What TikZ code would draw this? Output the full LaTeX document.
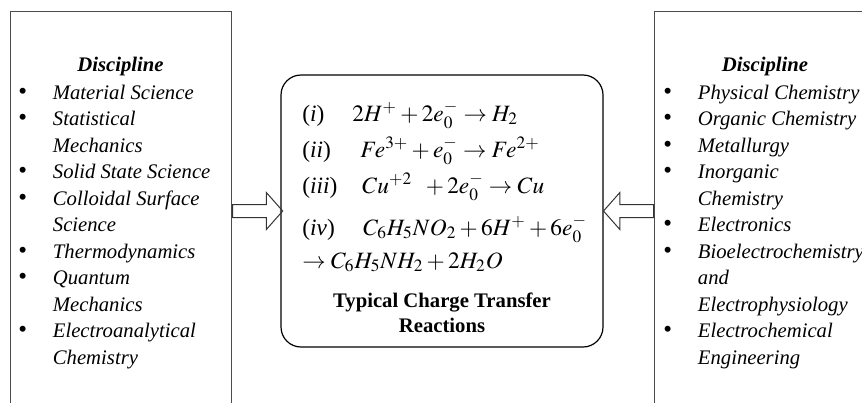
\documentclass[tikz,border=0pt]{standalone}
\usepackage{mathptmx}
\usepackage{fontspec}
\setmainfont{Liberation Serif}
\usetikzlibrary{shapes.arrows}

\newcommand{\discbullet}{{\upshape\fontsize{12.5}{12.5}\selectfont\textbullet}}

\begin{document}
\begin{tikzpicture}[x=0.5pt,y=-0.5pt,
    font=\fontsize{10.35}{13.25}\selectfont,
    disc box/.style={draw=black!70,line width=0.6pt,anchor=north west,inner sep=0pt,
                     minimum width=110.5pt,minimum height=210pt},
    disc head/.style={anchor=base,inner sep=0pt,font=\fontsize{10.35}{13.25}\selectfont\bfseries\itshape},
    disc list/.style={anchor=base west,inner sep=0pt,font=\fontsize{10.35}{13.25}\selectfont\itshape},
    react box/.style={draw=black,line width=0.6pt,rounded corners=10pt,
                      minimum width=161pt,minimum height=136pt},
    react line/.style={anchor=base west,inner sep=0pt,font=\fontsize{11.7}{14}\selectfont},
    react title/.style={anchor=base,inner sep=0pt,align=center,
                        font=\fontsize{10.35}{12.5}\selectfont\bfseries},
    block arrow/.style={single arrow,draw=black!80,line width=0.5pt,anchor=tail,inner sep=3pt,
                        minimum height=25pt,single arrow head extend=6pt,
                        single arrow tip angle=97,single arrow head indent=0pt}]

\useasboundingbox (0,0) rectangle (862,402);

% left discipline box
\node[disc box] (lbox) at (10,11) {};
\node[disc head] (lhead) at (120.5,71) {Discipline};
\node[disc list] (llist) at (18,99) {\begin{tabular}[t]{@{}p{17.25pt}@{}l@{}}
  \discbullet & Material Science\\
  \discbullet & Statistical\\
              & Mechanics\\
  \discbullet & Solid State Science\\
  \discbullet & Colloidal Surface\\
              & Science\\
  \discbullet & Thermodynamics\\
  \discbullet & Quantum\\
              & Mechanics\\
  \discbullet & Electroanalytical\\
              & Chemistry
\end{tabular}};

% right discipline box
\node[disc box] (rbox) at (654,11) {};
\node[disc head] (rhead) at (765,71) {Discipline};
\node[disc list] (rlist) at (663,99) {\begin{tabular}[t]{@{}p{17.25pt}@{}l@{}}
  \discbullet & Physical Chemistry\\
  \discbullet & Organic Chemistry\\
  \discbullet & Metallurgy\\
  \discbullet & Inorganic\\
              & Chemistry\\
  \discbullet & Electronics\\
  \discbullet & Bioelectrochemistry\\
              & and\\
              & Electrophysiology\\
  \discbullet & Electrochemical\\
              & Engineering
\end{tabular}};

% reactions in the middle
\node[react box] (react) at (442,211) {};
\node[react line] (r1) at (302,121) {\makebox[25pt][l]{(\textit{i})}$2H^{+}+2e_{0}^{-}\rightarrow H_{2}$};
\node[react line] (r2) at (302,157) {\makebox[29pt][l]{(\textit{ii})}$Fe^{3+}+e_{0}^{-}\rightarrow Fe^{2+}$};
\node[react line] (r3) at (302,193) {\makebox[30pt][l]{(\textit{iii})}$Cu^{+2}\;\;+2e_{0}^{-}\rightarrow Cu$};
\node[react line] (r4) at (302,235) {\makebox[30.5pt][l]{(\textit{iv})}$C_{6}H_{5}NO_{2}+6H^{+}+6e_{0}^{-}$};
\node[react line] (r5) at (302,268) {$\rightarrow C_{6}H_{5}NH_{2}+2H_{2}O$};
\node[react title] (rtitle) at (442,332) {Typical Charge Transfer\\Reactions};

% hollow arrows into the middle box
\node[block arrow] (larrow) at (lbox.east |- react) {};
\node[block arrow,shape border rotate=180] (rarrow) at (rbox.west |- react) {};

\end{tikzpicture}
\end{document}
